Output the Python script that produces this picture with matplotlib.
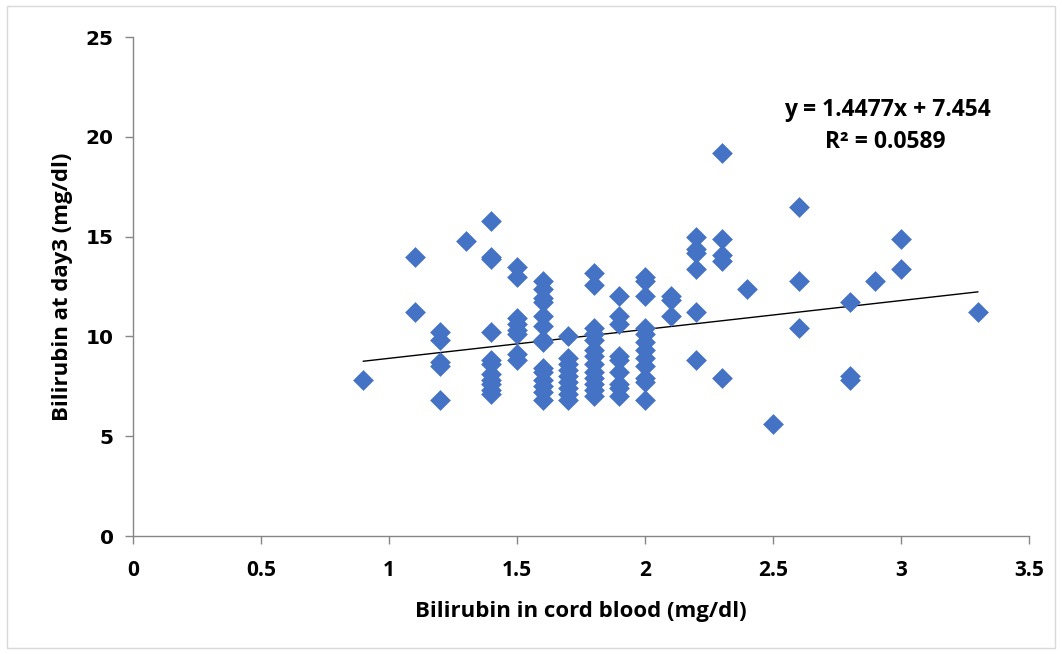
import matplotlib.pyplot as plt
from matplotlib.patches import Rectangle

# cord blood bilirubin (x) and day-3 bilirubin (y), grouped by x value
cord = [0.9, 1.1, 1.2, 1.3, 1.4, 1.5, 1.6, 1.7, 1.8, 1.9, 2.0, 2.1,
        2.2, 2.3, 2.4, 2.5, 2.6, 2.8, 2.9, 3.0, 3.3]
day3 = [
    [7.8],
    [14.0, 11.2],
    [10.2, 9.8, 8.7, 8.5, 6.8],
    [14.8],
    [15.8, 14.0, 13.9, 10.2, 8.8, 8.6, 8.1, 7.8, 7.6, 7.3, 7.1],
    [13.5, 13.0, 10.9, 10.6, 10.3, 10.1, 9.1, 8.8],
    [12.8, 12.4, 11.9, 11.7, 11.0, 10.5, 9.8, 9.7, 8.4, 8.2, 7.8, 7.5, 7.2, 6.8],
    [10.0, 8.9, 8.6, 8.3, 8.0, 7.7, 7.4, 7.1, 6.8],
    [13.2, 12.6, 10.4, 10.1, 9.8, 9.3, 9.0, 8.6, 8.2, 7.9, 7.6, 7.3, 7.0],
    [12.0, 11.0, 10.6, 9.0, 8.8, 8.2, 7.6, 7.4, 7.0],
    [13.0, 12.8, 12.0, 10.4, 10.1, 9.7, 9.3, 8.9, 8.5, 7.9, 7.7, 6.8],
    [12.0, 11.8, 11.0],
    [15.0, 14.4, 14.2, 13.4, 11.2, 8.8],
    [19.2, 14.9, 14.1, 13.8, 7.9],
    [12.4],
    [5.6],
    [16.5, 12.8, 10.4],
    [11.7, 8.0, 7.8],
    [12.8],
    [14.9, 13.4],
    [11.2],
]

# trendline coefficients
slope = 1.4477
intercept = 7.454
r2 = 0.0589

xs = [c for c, ys in zip(cord, day3) for _ in ys]
ys = [y for group in day3 for y in group]

label_font = ['Open Sans', 'DejaVu Sans']

fig = plt.figure(figsize=(10.62, 6.54), dpi=100)
ax = fig.add_axes([0.1252, 0.1804, 0.8437, 0.763])

ax.scatter(xs, ys, marker='D', s=112, color='#4472C4', linewidths=0, zorder=3)

x_line = [min(cord), max(cord)]
ax.plot(x_line, [slope * v + intercept for v in x_line], color='black', lw=1.0, zorder=2)

ax.set_xlim(0, 3.5)
ax.set_ylim(0, 25)
ax.set_xticks([0, 0.5, 1, 1.5, 2, 2.5, 3, 3.5])
ax.set_xticklabels(['0', '0.5', '1', '1.5', '2', '2.5', '3', '3.5'])
ax.set_yticks([0, 5, 10, 15, 20, 25])

for s in ['top', 'right']:
    ax.spines[s].set_visible(False)
for s in ['left', 'bottom']:
    ax.spines[s].set_color('#868686')
    ax.spines[s].set_linewidth(1.0)
ax.tick_params(direction='out', length=6, width=1.0, color='#868686')
ax.tick_params(axis='x', pad=11)
ax.tick_params(axis='y', pad=8)

for lab in ax.get_xticklabels():
    lab.set_family(label_font)
    lab.set_fontweight('bold')
    lab.set_fontsize(15)
for lab in ax.get_yticklabels():
    lab.set_family('DejaVu Sans')
    lab.set_fontweight('bold')
    lab.set_fontsize(14.5)

ax.set_xlabel('Bilirubin in cord blood (mg/dl)', fontsize=16, fontweight='bold',
              family=label_font, labelpad=15)
ax.set_ylabel('Bilirubin at day3 (mg/dl)', fontsize=16, fontweight='bold',
              family=label_font, labelpad=9)

ax.text(0.8415, 0.853, f'y = {slope}x + {intercept}', transform=ax.transAxes,
        ha='center', va='center', fontsize=16.5, fontweight='bold', family=label_font)
ax.text(0.840, 0.789, f'R² = {r2}', transform=ax.transAxes,
        ha='center', va='center', fontsize=16.5, fontweight='bold', family=label_font)

fig.patches.append(Rectangle((7 / 1062, 6 / 654), 1048 / 1062, 642 / 654,
                             transform=fig.transFigure, fill=False,
                             edgecolor='#D9D9D9', lw=1.0))

fig.savefig('out.png', dpi=100)
